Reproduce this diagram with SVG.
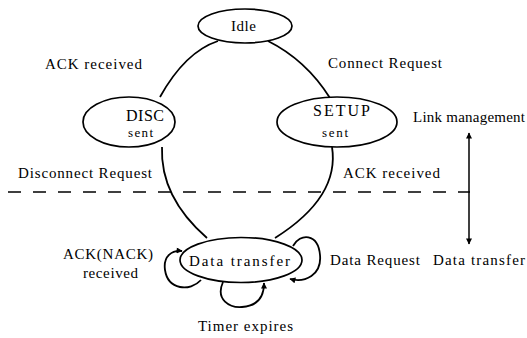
<svg xmlns="http://www.w3.org/2000/svg" width="527" height="338" viewBox="0 0 527 338">
  <defs>
    <marker id="head" viewBox="0 0 10 10" refX="9" refY="5" markerWidth="7" markerHeight="6" markerUnits="userSpaceOnUse" orient="auto">
      <path d="M0,0 L10,5 L0,10 Z" fill="#000"/>
    </marker>
    <marker id="headStart" viewBox="0 0 10 10" refX="9" refY="5" markerWidth="7" markerHeight="6" markerUnits="userSpaceOnUse" orient="auto-start-reverse">
      <path d="M0,0 L10,5 L0,10 Z" fill="#000"/>
    </marker>
  </defs>
  <style>
    .node { fill: #fff; stroke: #000; stroke-width: 1.7; }
    .edge { fill: none; stroke: #000; stroke-width: 1.8; }
    .t { font-family: "Liberation Serif", "Times New Roman", serif; fill: #000; }
    .lbl { font-size: 15px; }
    .big { font-size: 16px; }
    .small { font-size: 13px; }
  </style>
  <rect width="527" height="338" fill="#fff"/>

  <!-- boundary between link management and data transfer phases -->
  <line x1="8" y1="192" x2="470" y2="192" stroke="#000" stroke-width="1.5" stroke-dasharray="13 12"/>

  <!-- phase range indicator -->
  <line x1="469" y1="133" x2="469" y2="244" stroke="#000" stroke-width="1.5" marker-start="url(#headStart)" marker-end="url(#head)"/>

  <g id="connectors">
    <path class="edge" d="M218,41 Q185,52 160,97"/>
    <path class="edge" d="M268,41 Q306,60 330,98"/>
    <path class="edge" d="M162,147 Q160,197 207,238"/>
    <path class="edge" d="M332,147 Q340,197 275,238"/>
    <!-- self loops on Data transfer -->
    <path class="edge" d="M201,280 C190,292 168,290 165,270 C163,256 172,250 182,251" marker-end="url(#head)"/>
    <path class="edge" d="M223,282 C215,300 230,308 242,307 C258,306 264,296 264,283" marker-end="url(#head)"/>
    <path class="edge" d="M293,246 C300,233 318,233 320,255 C322,275 305,283 290,279" marker-end="url(#head)"/>
  </g>

  <g id="idle">
    <ellipse class="node" cx="245" cy="26" rx="47" ry="17"/>
    <text class="t lbl" x="231" y="31" textLength="25">Idle</text>
  </g>

  <g id="disc-sent">
    <ellipse class="node" cx="129" cy="122" rx="46" ry="25"/>
    <text class="t big" x="126" y="121" textLength="38">DISC</text>
    <text class="t small" x="128" y="137" textLength="25">sent</text>
  </g>

  <g id="setup-sent">
    <ellipse class="node" cx="337" cy="122" rx="60" ry="25"/>
    <text class="t big" x="313" y="116" textLength="57">SETUP</text>
    <text class="t small" x="322" y="137" textLength="26">sent</text>
  </g>

  <g id="data-transfer">
    <ellipse class="node" cx="241" cy="260" rx="61" ry="22.5"/>
    <text class="t lbl" x="189" y="266" textLength="101">Data transfer</text>
  </g>

  <g id="labels">
    <text class="t lbl" x="45" y="69" textLength="97">ACK received</text>
    <text class="t lbl" x="328" y="68" textLength="114">Connect Request</text>
    <text class="t lbl" x="413" y="122" textLength="112">Link management</text>
    <text class="t lbl" x="18" y="178" textLength="134">Disconnect Request</text>
    <text class="t lbl" x="343" y="178" textLength="97">ACK received</text>
    <text class="t lbl" x="63" y="259" textLength="90">ACK(NACK)</text>
    <text class="t lbl" x="83" y="278" textLength="55">received</text>
    <text class="t lbl" x="330" y="265" textLength="90">Data Request</text>
    <text class="t lbl" x="433" y="265" textLength="92">Data transfer</text>
    <text class="t lbl" x="198" y="331" textLength="95">Timer expires</text>
  </g>
</svg>
